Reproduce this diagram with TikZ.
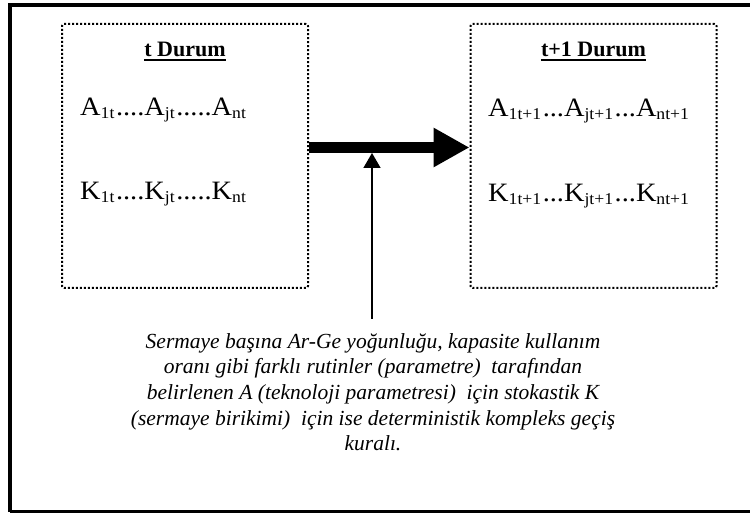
\documentclass[tikz,border=0pt]{standalone}
\usepackage{fontspec}
\setmainfont{Liberation Serif}
\usetikzlibrary{arrows.meta}
\newcommand\sbs[1]{\raisebox{-2.5pt}{\fontsize{16.5}{17}\selectfont #1}\kern1.5pt}
\newcommand\rowtxt[1]{\scalebox{1.07}[1]{#1}}
\tikzset{
  frame/.style={line width=4pt},
  dotbox/.style={draw, line width=2pt, dash pattern=on 2pt off 2pt, rounded corners=2pt,
    minimum width=246pt, minimum height=264pt, inner sep=0pt},
  boxtitle/.style={font=\fontsize{22}{26}\selectfont\bfseries, inner sep=0pt, anchor=base},
  rowtext/.style={font=\fontsize{26.5}{30}\selectfont, inner sep=0pt, anchor=base west},
  bigarrow/.style={line width=11pt, -{Triangle[length=36pt,width=37pt]}},
  thinarrow/.style={line width=1.5pt, -{Triangle[length=15pt,width=17pt]}},
  caption/.style={font=\fontsize{21.5}{25.7}\selectfont\itshape, align=center, inner sep=0pt, anchor=north},
}
\begin{document}
\begin{tikzpicture}[x=1pt,y=1pt]
\useasboundingbox (0,0) rectangle (750,513);
\draw[frame] (10,1) -- (10,508) -- (760,508);
\draw[frame] (10,1) -- (760,1);
\node[dotbox] (lbox) at (185,357) {};
\node[dotbox] (rbox) at (593.5,357) {};
\node[boxtitle] (lt) at (185,456.3) {t Durum};
\node[boxtitle] (rt) at (593.5,456.3) {t+1 Durum};
\draw[line width=2.2pt] ([yshift=-3.5pt]lt.base west) -- ([yshift=-3.5pt]lt.base east);
\draw[line width=2.2pt] ([yshift=-3.5pt]rt.base west) -- ([yshift=-3.5pt]rt.base east);
\node[rowtext] (la) at (80,397) {\rowtxt{A\sbs{1t}....A\sbs{jt}.....A\sbs{nt}}};
\node[rowtext] (lk) at (80,313) {\rowtxt{K\sbs{1t}....K\sbs{jt}.....K\sbs{nt}}};
\node[rowtext] (ra) at (488,396) {\rowtxt{A\sbs{1t+1}...A\sbs{jt+1}...A\sbs{nt+1}}};
\node[rowtext] (rk) at (488,311) {\rowtxt{K\sbs{1t+1}...K\sbs{jt+1}...K\sbs{nt+1}}};
\coordinate (ay) at (0,365.5);
\draw[bigarrow] (lbox.east |- ay) -- (rbox.west |- ay);
\coordinate (tbot) at (372,194);
\coordinate (sb) at (0,360);
\draw[thinarrow] (tbot) -- (tbot |- sb);
\node[caption] (cap) at (373,180) {Sermaye başına Ar-Ge yoğunluğu, kapasite kullanım\\
oranı gibi farklı rutinler (parametre)\ \ tarafından\\
belirlenen A (teknoloji parametresi)\ \ için stokastik K\\
(sermaye birikimi)\ \ için ise deterministik kompleks geçiş\\
kuralı.};
\end{tikzpicture}
\end{document}
